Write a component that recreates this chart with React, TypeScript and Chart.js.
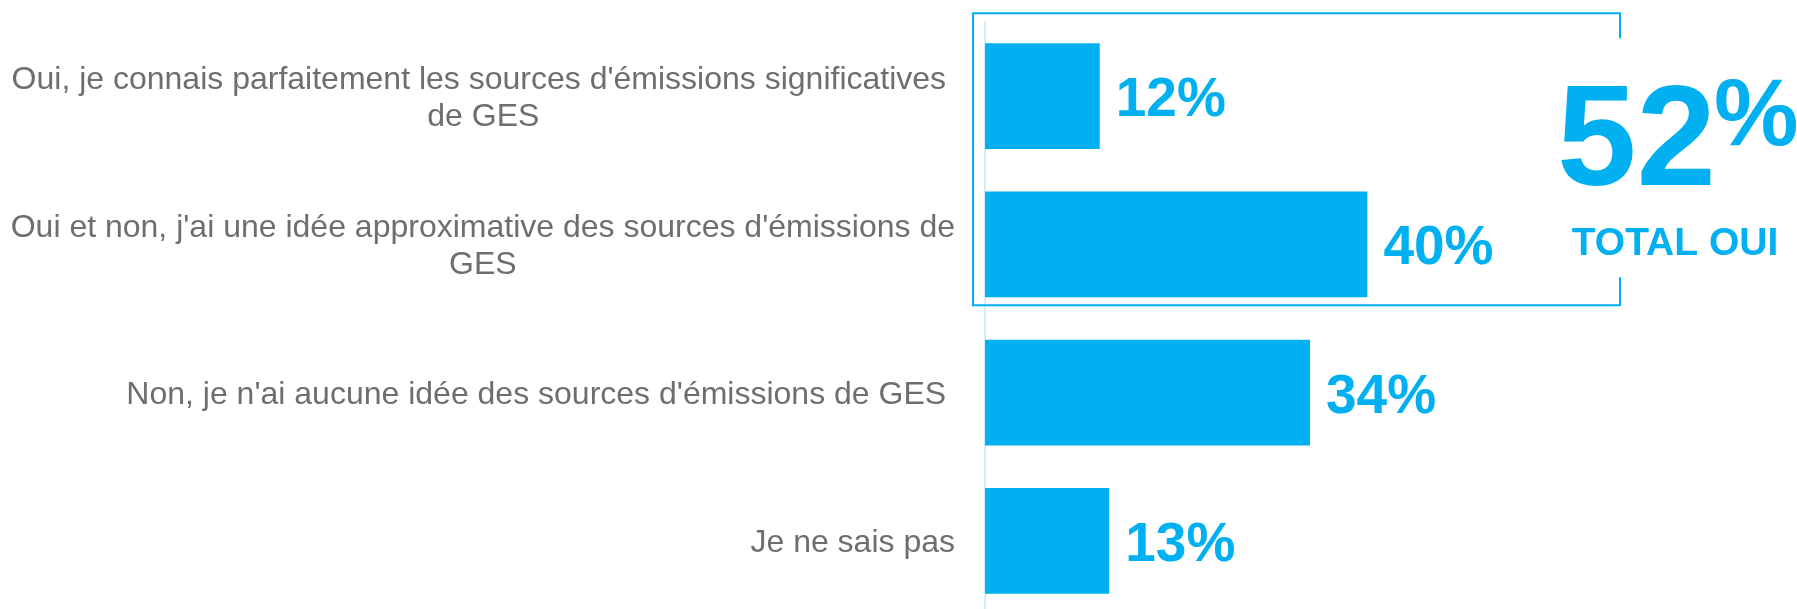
import React, { useEffect, useRef } from "react";
import { Chart, registerables } from "chart.js";

Chart.register(...registerables);

// ---- data ----
const categories: string[][] = [
  ["Oui, je connais parfaitement les sources d'émissions significatives ", "de GES"],
  ["Oui et non, j'ai une idée approximative des sources d'émissions de", "GES"],
  ["Non, je n'ai aucune idée des sources d'émissions de GES "],
  ["Je ne sais pas"],
];
const values: number[] = [12, 40, 34, 13];
const totalIndices: number[] = [0, 1];
const totalLabel = "TOTAL OUI";

// ---- style ----
const BLUE = "#00b0f0";
const GREY = "#6e6e6e";
const AXIS = "#d3effb";
const FONT = "'Liberation Sans', Arial, sans-serif";

const overlay = {
  id: "overlay",
  afterDatasetsDraw(chart: any) {
    const ctx: CanvasRenderingContext2D = chart.ctx;
    const meta = chart.getDatasetMeta(0);
    const area = chart.chartArea;
    const yScale = chart.scales.y;
    ctx.save();

    // value labels
    ctx.font = `bold 55px ${FONT}`;
    ctx.fillStyle = BLUE;
    ctx.textAlign = "left";
    ctx.textBaseline = "alphabetic";
    meta.data.forEach((bar: any, i: number) => {
      ctx.fillText(`${values[i]}%`, bar.x + 16, bar.y + 20);
    });

    // category labels (block right-aligned, lines centered)
    ctx.font = `32px ${FONT}`;
    ctx.fillStyle = GREY;
    ctx.textAlign = "center";
    ctx.textBaseline = "alphabetic";
    const rightEdge = area.left - 30;
    const lh = 37;
    categories.forEach((lines, i) => {
      const y = yScale.getPixelForTick(i);
      const w = Math.max(...lines.map((l) => ctx.measureText(l).width));
      const cx = rightEdge - w / 2;
      const y0 = y + 11 - ((lines.length - 1) * lh) / 2;
      lines.forEach((l, j) => ctx.fillText(l, cx, y0 + j * lh));
    });

    // bracket box around the "oui" answers
    const b0 = meta.data[totalIndices[0]];
    const b1 = meta.data[totalIndices[totalIndices.length - 1]];
    const top = b0.y - b0.height / 2 - 30;
    const bottom = b1.y + b1.height / 2 + 8;
    const left = area.left - 12;
    const right = chart.width - 177;
    ctx.strokeStyle = BLUE;
    ctx.lineWidth = 2;
    ctx.beginPath();
    ctx.moveTo(right, top + 25);
    ctx.lineTo(right, top);
    ctx.lineTo(left, top);
    ctx.lineTo(left, bottom);
    ctx.lineTo(right, bottom);
    ctx.lineTo(right, bottom - 28);
    ctx.stroke();

    // total
    const total = totalIndices.reduce((s, i) => s + values[i], 0);
    ctx.fillStyle = BLUE;
    ctx.textBaseline = "alphabetic";
    ctx.textAlign = "left";
    ctx.font = `bold 143px ${FONT}`;
    ctx.fillText(String(total), right - 63, top + 172);
    ctx.font = `bold 95px ${FONT}`;
    ctx.fillText("%", right + 94, top + 132);
    ctx.textAlign = "center";
    ctx.font = `bold 39px ${FONT}`;
    ctx.fillText(totalLabel, right + 55, top + 242);

    ctx.restore();
  },
};

export default function App() {
  const ref = useRef<HTMLCanvasElement | null>(null);
  useEffect(() => {
    if (!ref.current) return;
    const chart = new Chart(ref.current, {
      type: "bar",
      data: {
        labels: categories as any,
        datasets: [
          {
            data: values,
            backgroundColor: BLUE,
            borderWidth: 0,
            barPercentage: 1,
            categoryPercentage: 0.715,
          },
        ],
      },
      options: {
        indexAxis: "y",
        responsive: false,
        animation: false,
        layout: { padding: { top: 22, right: 9, bottom: 0, left: 0 } },
        plugins: { legend: { display: false }, tooltip: { enabled: false } },
        scales: {
          x: { display: false, min: 0, max: 84 },
          y: {
            grid: { display: false },
            ticks: { display: false },
            border: { display: true, color: AXIS, width: 2 },
            afterFit: (s: any) => {
              s.width = 985;
            },
          },
        },
      },
      plugins: [overlay],
    });
    return () => chart.destroy();
  }, []);
  return (
    <div
      style={{
        position: "fixed",
        left: 0,
        top: 0,
        width: 1797,
        height: 615,
        overflow: "hidden",
        background: "#fff",
      }}
    >
      <canvas ref={ref} width={1797} height={615} style={{ display: "block" }} />
    </div>
  );
}
